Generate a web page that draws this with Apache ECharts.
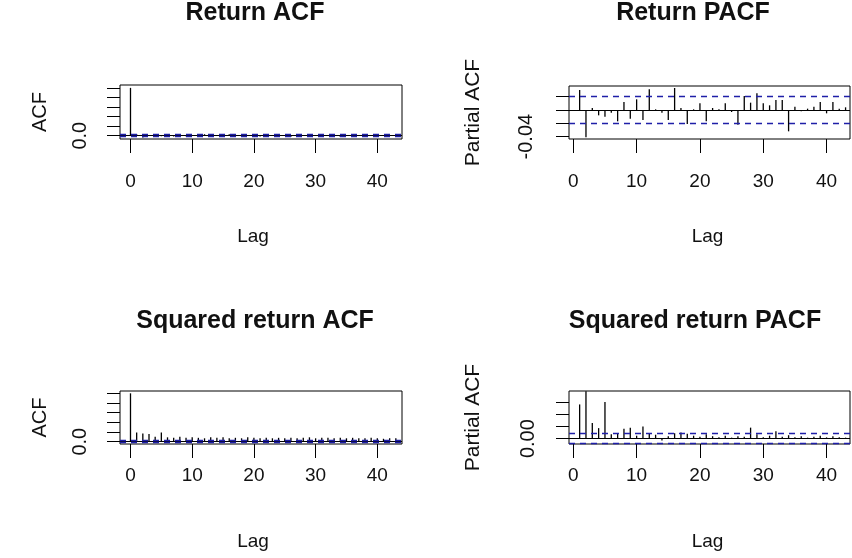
<!DOCTYPE html>
<html>
<head>
<meta charset="utf-8">
<script src="https://cdn.jsdelivr.net/npm/echarts@6/dist/echarts.min.js"></script>
<style>
  html, body { margin: 0; padding: 0; background: #fff; }
  #chart { width: 852px; height: 558px; }
</style>
</head>
<body>
<div id="chart"></div>
<script>
// lags
const acfLags = [0,1,2,3,4,5,6,7,8,9,10,11,12,13,14,15,16,17,18,19,20,21,22,23,24,25,26,27,28,29,30,31,32,33,34,35,36,37,38,39,40,41,42,43];
const pacfLags = [1,2,3,4,5,6,7,8,9,10,11,12,13,14,15,16,17,18,19,20,21,22,23,24,25,26,27,28,29,30,31,32,33,34,35,36,37,38,39,40,41,42,43];

// Return ACF / PACF
const returnAcf = [1,0.030,-0.040,0.004,-0.009,-0.011,-0.005,-0.016,0.012,-0.012,0.015,-0.014,0.030,0.002,-0.005,-0.014,0.032,0.002,-0.020,0.002,0.010,-0.016,0.004,0.001,0.009,-0.004,-0.021,0.020,0.012,0.024,0.011,0.008,0.014,0.016,-0.030,0.006,-0.002,0.003,0.005,0.011,-0.004,0.011,0.003,0.004];
const returnPacf = [0.030,-0.041,0.003,-0.008,-0.010,-0.004,-0.017,0.012,-0.013,0.016,-0.015,0.031,0.001,-0.004,-0.015,0.033,0.003,-0.021,0.001,0.010,-0.017,0.003,0.001,0.010,-0.003,-0.022,0.021,0.011,0.025,0.010,0.007,0.015,0.015,-0.032,0.005,-0.002,0.002,0.005,0.012,-0.005,0.012,0.002,0.004];

// Squared return ACF / PACF
const squaredAcf = [1,0.19,0.17,0.16,0.10,0.19,0.09,0.08,0.10,0.08,0.09,0.08,0.07,0.09,0.08,0.09,0.07,0.08,0.07,0.09,0.08,0.07,0.08,0.07,0.08,0.07,0.08,0.07,0.08,0.09,0.07,0.08,0.08,0.07,0.08,0.07,0.08,0.07,0.07,0.08,0.07,0.06,0.07,0.07];
const squaredPacf = [0.140,0.194,0.064,0.043,0.150,0.018,0.022,0.040,0.045,0.012,0.050,0.020,0.016,-0.008,0.010,0.022,0.025,0.020,0.012,0.008,0.018,0.010,0.006,0.012,0.004,0.010,0.008,0.045,0.018,0.006,0.012,0.030,0.008,0.014,0.006,0.010,0.004,0.008,0.012,0.005,0.010,0.006,0.004];

// 95% confidence bound
const ciBound = [0.016];

const xTicks = [0, 10, 20, 30, 40];
const titles = ['Return ACF', 'Return PACF', 'Squared return ACF', 'Squared return PACF'];
const yNames = ['ACF', 'Partial ACF', 'ACF', 'Partial ACF'];
const yTicks = [
    [0, 0.2, 0.4, 0.6, 0.8, 1.0],
    [-0.04, -0.02, 0, 0.02],
    [0, 0.2, 0.4, 0.6, 0.8, 1.0],
    [0, 0.05, 0.10, 0.15]
];
const yLabelValues = [[0], [-0.04], [0], [0]];
const yLabelDigits = [1, 2, 1, 2];

const FONT = '"Liberation Sans", Arial, sans-serif';

const chart = echarts.init(document.getElementById('chart'));

const panels = [
    { lags: acfLags, vals: returnAcf, grid: { left: 120, top: 85, width: 282, height: 54 }, xMin: -1.7, xMax: 44.0, yMin: -0.07, yMax: 1.06, xLabelMargin: 33, yLabelMargin: 30, titleX: 255, titleY: 13 },
    { lags: pacfLags, vals: returnPacf, grid: { left: 569, top: 86, width: 281, height: 53 }, xMin: -0.68, xMax: 43.7, yMin: -0.0435, yMax: 0.036, xLabelMargin: 33, yLabelMargin: 33, titleX: 693, titleY: 13 },
    { lags: acfLags, vals: squaredAcf, grid: { left: 120, top: 391, width: 282, height: 53 }, xMin: -1.7, xMax: 44.0, yMin: -0.048, yMax: 1.048, xLabelMargin: 22, yLabelMargin: 30, titleX: 255, titleY: 321 },
    { lags: pacfLags, vals: squaredPacf, grid: { left: 569, top: 391, width: 281, height: 53 }, xMin: -0.68, xMax: 43.7, yMin: -0.022, yMax: 0.195, xLabelMargin: 22, yLabelMargin: 31, titleX: 695, titleY: 321 }
];

const grid = [], xAxis = [], yAxis = [], series = [], graphic = [];

panels.forEach((p, i) => {
    grid.push(Object.assign({
        show: true,
        borderColor: '#000',
        borderWidth: 1,
        backgroundColor: 'transparent'
    }, p.grid));

    xAxis.push({
        type: 'value',
        gridIndex: i,
        min: p.xMin,
        max: p.xMax,
        name: 'Lag',
        nameLocation: 'middle',
        nameGap: 88,
        nameTextStyle: { fontSize: 19, color: '#111', fontFamily: FONT, padding: i % 2 === 0 ? [0, 16, 0, 0] : [0, 4, 0, 0] },
        axisLine: { show: false, onZero: false },
        axisTick: { show: true, length: 14, customValues: xTicks, lineStyle: { color: '#000' } },
        axisLabel: { customValues: xTicks, margin: p.xLabelMargin, fontSize: 19, color: '#111', fontFamily: FONT },
        splitLine: { show: false }
    });

    yAxis.push({
        type: 'value',
        gridIndex: i,
        min: p.yMin,
        max: p.yMax,
        name: yNames[i],
        nameLocation: 'middle',
        nameRotate: 90,
        nameGap: i % 2 === 0 ? 70 : 85,
        nameTextStyle: { fontSize: i % 2 === 0 ? 20 : 21, color: '#111', fontFamily: FONT },
        axisLine: { show: false, onZero: false },
        axisTick: { show: true, length: 13, customValues: yTicks[i], lineStyle: { color: '#000' } },
        axisLabel: {
            customValues: yLabelValues[i],
            rotate: 90,
            margin: p.yLabelMargin,
            fontSize: 20,
            color: '#111',
            fontFamily: FONT,
            formatter: v => Number(v).toFixed(yLabelDigits[i])
        },
        splitLine: { show: false }
    });

    series.push({
        type: 'bar',
        xAxisIndex: i,
        yAxisIndex: i,
        barWidth: 1.3,
        itemStyle: { color: '#000' },
        silent: true,
        data: p.lags.map((lag, k) => [lag, p.vals[k]]),
        markLine: {
            silent: true,
            symbol: 'none',
            label: { show: false },
            animation: false,
            data: [
                { yAxis: 0, lineStyle: { color: '#000', type: 'solid', width: 1 } },
                { yAxis: ciBound[0], lineStyle: { color: '#1f1fa8', type: [6, 5], width: 1.4 } },
                { yAxis: -ciBound[0], lineStyle: { color: '#1f1fa8', type: [6, 5], width: 1.4 } }
            ]
        }
    });

    graphic.push({
        type: 'text',
        x: p.titleX,
        y: p.titleY,
        style: {
            text: titles[i],
            align: 'center',
            verticalAlign: 'middle',
            font: 'bold 25px ' + FONT,
            fill: '#111'
        }
    });
});

chart.setOption({
    animation: false,
    backgroundColor: '#fff',
    grid: grid,
    xAxis: xAxis,
    yAxis: yAxis,
    series: series,
    graphic: graphic
});
</script>
</body>
</html>
